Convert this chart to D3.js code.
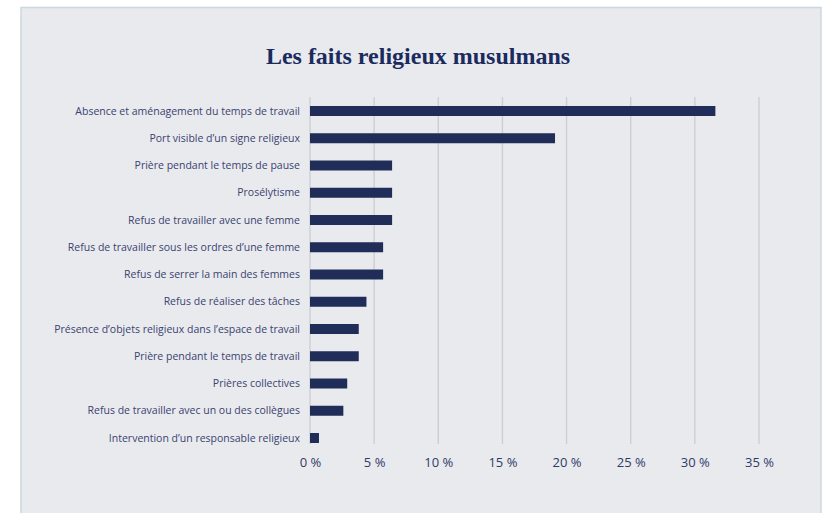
<!DOCTYPE html>
<html>
<head>
<meta charset="utf-8">
<script src="https://cdn.jsdelivr.net/npm/d3@7"></script>
<style>
  body { margin: 0; background: #fff; }
  svg text { font-family: "Open Sans", sans-serif; }
</style>
</head>
<body>
<div id="chart"></div>
<script>
// chart data
const categories = [
    "Absence et aménagement du temps de travail",
    "Port visible d’un signe religieux",
    "Prière pendant le temps de pause",
    "Prosélytisme",
    "Refus de travailler avec une femme",
    "Refus de travailler sous les ordres d’une femme",
    "Refus de serrer la main des femmes",
    "Refus de réaliser des tâches",
    "Présence d’objets religieux dans l’espace de travail",
    "Prière pendant le temps de travail",
    "Prières collectives",
    "Refus de travailler avec un ou des collègues",
    "Intervention d’un responsable religieux"
]
const values = [31.6, 19.1, 6.4, 6.4, 6.4, 5.7, 5.7, 4.4, 3.8, 3.8, 2.9, 2.6, 0.7]
const tickValues = [0, 5, 10, 15, 20, 25, 30, 35]
const title = "Les faits religieux musulmans"

const width = 824
const height = 513
const margin = ({ top: 106, right: 65, bottom: 70, left: 310 })

const svg = d3.select('#chart')
    .append("svg")
    .attr('width', width)
    .attr('height', height)

// panel background
svg.append("rect")
    .attr("x", 21)
    .attr("y", 7.5)
    .attr("width", 800)
    .attr("height", 520)
    .attr("fill", "#e9eaee")
    .attr("stroke", "#ccd8de")
    .attr("stroke-width", 1.5)

var x = d3.scaleLinear()
    .domain([0, 35])
    .range([margin.left, 759])

var y = d3.scaleBand()
    .domain(categories)
    .range([margin.top, height - margin.bottom])
    .paddingInner(0.633)
    .paddingOuter(0)

// grid lines
svg.append("g")
    .selectAll("line")
    .data(tickValues)
    .join("line")
    .attr("x1", d => x(d))
    .attr("x2", d => x(d))
    .attr("y1", 97)
    .attr("y2", 444)
    .attr("stroke", "#cdced5")
    .attr("stroke-width", 1.4)

// bars
svg.append("g")
    .attr("fill", "#202d59")
    .selectAll("rect")
    .data(values)
    .join("rect")
    .attr("x", x(0))
    .attr("y", (d, i) => y(categories[i]))
    .attr("width", d => x(d) - x(0))
    .attr("height", y.bandwidth())

// category labels
svg.append("g")
    .selectAll("text")
    .data(categories)
    .join("text")
    .attr("x", x(0) - 10)
    .attr("y", d => y(d) + y.bandwidth() / 2)
    .attr("dy", "0.35em")
    .attr("text-anchor", "end")
    .attr("font-size", 10.5)
    .attr("fill", "#3a4270")
    .text(d => d)

// x axis
const xAxis = g => g
    .attr("transform", `translate(0,458)`)
    .call(d3.axisBottom(x).tickValues(tickValues).tickSize(0).tickPadding(0)
        .tickFormat(d => d + " %"))
    .call(g => g.select(".domain").remove())
    .call(g => g.selectAll("text")
        .attr("font-size", 13)
        .attr("font-family", "Open Sans, sans-serif")
        .attr("fill", "#2f3a66"))

svg.append("g").call(xAxis)

// title
svg.append("text")
    .attr("x", 418)
    .attr("y", 64)
    .attr("text-anchor", "middle")
    .attr("font-family", "Liberation Serif, serif")
    .attr("font-weight", "bold")
    .attr("font-size", 24)
    .attr("fill", "#1b2b5e")
    .style("font-family", "Liberation Serif, serif")
    .text(title)
</script>
</body>
</html>
